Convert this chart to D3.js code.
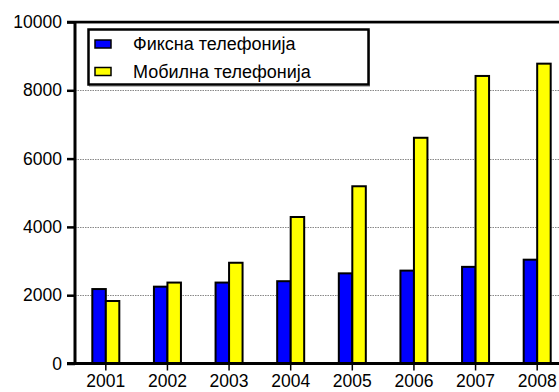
<!DOCTYPE html>
<html>
<head>
<meta charset="utf-8">
<script src="https://cdn.jsdelivr.net/npm/d3@7"></script>
<style>
  html, body { margin: 0; padding: 0; background: #fff; }
  svg { display: block; font-family: "Liberation Sans", Arial, Helvetica, sans-serif; }
</style>
</head>
<body>
<script>
// Years on the category axis
const years = ["2001", "2002", "2003", "2004", "2005", "2006", "2007", "2008"];
// Series values
const fixedLine = [2180, 2250, 2370, 2410, 2640, 2720, 2830, 3040];
const mobile = [1830, 2370, 2950, 4290, 5190, 6610, 8420, 8780];
const seriesNames = ["Фиксна телефонија", "Мобилна телефонија"];
const seriesColors = ["#0000ff", "#ffff00"];
// Value axis ticks
const yTicks = [0, 2000, 4000, 6000, 8000, 10000];

const W = 559, H = 392;
const plotLeft = 75, plotTop = 22, plotBottom = 363.5, plotRightEnd = 568;

const svg = d3.select("body").append("svg").attr("width", W).attr("height", H);

const y = d3.scaleLinear().domain([0, 10000]).range([plotBottom, plotTop]);
const x = d3.scaleBand().domain(years).range([plotLeft, plotRightEnd]).paddingInner(0).paddingOuter(0);
const barW = 13.5;

// dotted gridlines
svg.append("g").selectAll("line")
  .data(yTicks.filter(t => t > 0 && t < 10000))
  .join("line")
  .attr("x1", plotLeft).attr("x2", W)
  .attr("y1", d => Math.round(y(d)) + 0.5).attr("y2", d => Math.round(y(d)) + 0.5)
  .attr("stroke", "#888").attr("stroke-width", 1).attr("stroke-dasharray", "1.5,1");

// top border of the plotting area
svg.append("line").attr("x1", 67).attr("x2", W).attr("y1", plotTop + 1.5).attr("y2", plotTop + 1.5)
  .attr("stroke", "#bbb").attr("stroke-width", 1);
svg.append("line").attr("x1", 67).attr("x2", W).attr("y1", plotTop).attr("y2", plotTop)
  .attr("stroke", "#000").attr("stroke-width", 2.5);

// bars
const data = years.map((yr, i) => ({ year: yr, vals: [fixedLine[i], mobile[i]] }));
const groups = svg.append("g").selectAll("g").data(data).join("g")
  .attr("transform", d => `translate(${x(d.year) + x.bandwidth() / 2},0)`);
groups.selectAll("rect")
  .data(d => d.vals.map((v, k) => ({ v, k })))
  .join("rect")
  .attr("x", d => d.k === 0 ? -barW : 0)
  .attr("width", barW)
  .attr("y", d => y(d.v))
  .attr("height", d => y(0) - y(d.v))
  .attr("fill", d => seriesColors[d.k])
  .attr("stroke", "#000").attr("stroke-width", 2);

// value axis
const yAxis = svg.append("g").attr("transform", `translate(${plotLeft},0)`)
  .call(d3.axisLeft(y).tickValues(yTicks).tickSize(8).tickPadding(5).tickFormat(d3.format("d")));
yAxis.select(".domain").attr("stroke-width", 3).attr("d", `M0,${plotTop}V${plotBottom}`);
yAxis.selectAll(".tick line").attr("stroke-width", 2.5);
yAxis.selectAll(".tick text").attr("font-size", 17.5).attr("fill", "#000")
  .attr("font-family", "Liberation Sans, Arial, sans-serif");

// category axis
const xAxis = svg.append("g").attr("transform", `translate(0,${plotBottom})`)
  .call(d3.axisBottom(x).tickSize(7).tickPadding(4));
xAxis.select(".domain").attr("stroke-width", 3).attr("d", `M67,0H${W}`);
xAxis.selectAll(".tick line").attr("stroke-width", 1.5);
xAxis.selectAll(".tick text").attr("font-size", 17.5).attr("fill", "#000")
  .attr("font-family", "Liberation Sans, Arial, sans-serif");

// legend
const lg = svg.append("g");
lg.append("rect").attr("x", 89.5).attr("y", 30.5).attr("width", 280).attr("height", 56)
  .attr("fill", "none").attr("stroke", "#bbb").attr("stroke-width", 1);
lg.append("rect").attr("x", 88.5).attr("y", 29.5).attr("width", 280).attr("height", 55)
  .attr("fill", "#fff").attr("stroke", "#000").attr("stroke-width", 2.5);
const items = lg.selectAll("g").data(seriesNames).join("g")
  .attr("transform", (d, i) => `translate(0,${44 + i * 27.5})`);
items.append("rect").attr("x", 95).attr("y", -4).attr("width", 16).attr("height", 8)
  .attr("fill", (d, i) => seriesColors[i]).attr("stroke", "#000").attr("stroke-width", 1.5);
items.append("text").attr("x", 133).attr("y", 0).attr("dy", "0.36em")
  .attr("font-size", 18).text(d => d);
</script>
</body>
</html>
